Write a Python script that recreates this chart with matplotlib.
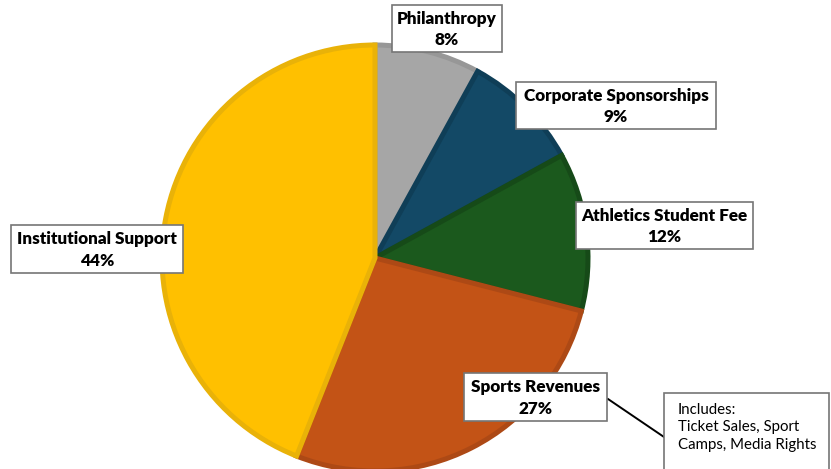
import matplotlib
matplotlib.use("Agg")
import matplotlib.pyplot as plt
from matplotlib.patches import Rectangle

# Revenue sources (percent of total), drawn clockwise from 12 o'clock
categories = ["Philanthropy", "Corporate Sponsorships", "Athletics Student Fee",
              "Sports Revenues", "Institutional Support"]
shares = [8, 9, 12, 27, 44]
fill_colors = ["#A6A6A6", "#134966", "#1B591D", "#C35316", "#FFC000"]
edge_colors = ["#979797", "#0F3E57", "#164A18", "#AD4915", "#E9B208"]
note_lines = ["Includes:", "Ticket Sales, Sport", "Camps, Media Rights"]

W, H = 831, 469
fig = plt.figure(figsize=(W / 100, H / 100), dpi=100)
ax = fig.add_axes([0, 0, 1, 1])


def fy(y):
    """Convert a top-down pixel row into the axes' bottom-up coordinate."""
    return H - y


center = (375, fy(258))
radius = 213
wedges, _ = ax.pie(shares, colors=fill_colors, startangle=90, counterclock=False,
                   center=center, radius=radius, frame=True,
                   wedgeprops=dict(linewidth=3.6, joinstyle="miter"))
for w, ec in zip(wedges, edge_colors):
    w.set_edgecolor(ec)
ax.set_xlim(0, W)
ax.set_ylim(0, H)
ax.set_aspect("equal")
ax.axis("off")

# Label boxes: (left, top, right, bottom) in pixel rows/cols
boxes = [
    (392, 5, 502, 52),
    (516, 82, 716, 129),
    (576, 202, 753, 249),
    (464, 373, 607, 421),
    (11, 225, 183, 273),
]
font = dict(family=["Lato", "DejaVu Sans"], fontsize=12.3, fontweight="heavy", color="black")
for (l, t, r, b), name, val in zip(boxes, categories, shares):
    ax.add_patch(Rectangle((l, fy(b)), r - l, b - t, facecolor="white",
                           edgecolor="#767676", linewidth=1.2, zorder=5))
    cx = (l + r) / 2
    ax.text(cx, fy(t + (b - t) * 0.29), name, ha="center", va="center", zorder=6, **font)
    ax.text(cx, fy(t + (b - t) * 0.74), f"{val}%", ha="center", va="center", zorder=6, **font)

# Callout note for sports revenues
nl, nt, nr, nb = 664, 393, 829, 475
ax.add_patch(Rectangle((nl, fy(nb)), nr - nl, nb - nt, facecolor="white",
                       edgecolor="#767676", linewidth=1.2, zorder=5, clip_on=False))
ax.plot([608, nl], [fy(399), fy(437)], color="black", linewidth=1.4, zorder=4)
for i, line in enumerate(note_lines):
    ax.text(678, fy(410 + i * 17.5), line, ha="left", va="center", zorder=6,
            family=["Lato", "DejaVu Sans"], fontsize=10.8, color="black")

fig.savefig("out.png", dpi=100, facecolor="white")
